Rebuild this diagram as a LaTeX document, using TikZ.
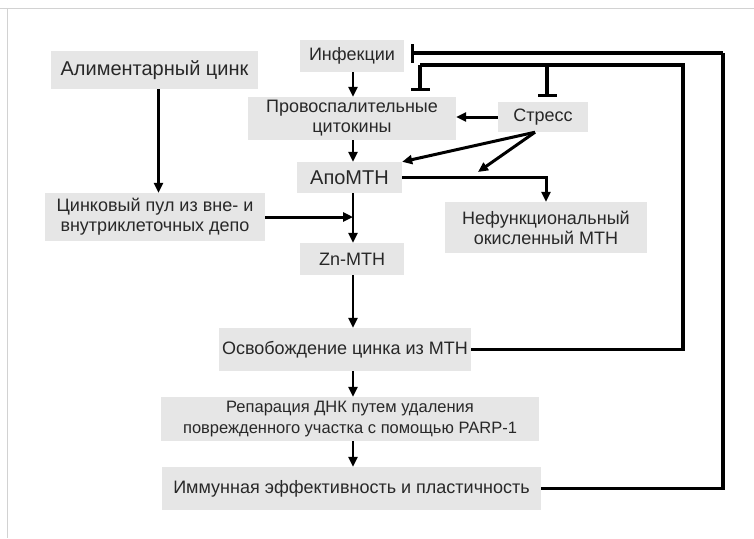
\documentclass[tikz,border=0pt]{standalone}
\usepackage{fontspec}
\setmainfont{Liberation Sans}
\usetikzlibrary{arrows.meta}

\definecolor{boxgray}{RGB}{230,230,230}
\definecolor{txtgray}{RGB}{40,40,40}
\definecolor{framegray}{RGB}{210,210,210}

\tikzset{
  stage/.style={fill=boxgray, text=txtgray, align=center, inner sep=0pt,
    font=\fontsize{18}{20}\selectfont},
  arr/.style={line width=2.5pt, -{Triangle[length=10pt,width=9pt]}},
  fb/.style={line width=3.2pt},
  inh/.style={line width=3.2pt, -{Bar[width=19pt]}}
}

\begin{document}
\begin{tikzpicture}[x=1pt,y=-1pt]
\useasboundingbox (0,0) rectangle (754,538);
\draw[framegray, line width=1pt] (0,8) -- (754,8);
\draw[framegray, line width=1pt] (7,8) -- (7,538);

% boxes
\node[stage, minimum width=104, minimum height=32] (inf) at (352,56) {Инфекции};
\node[stage, minimum width=207, minimum height=38, font=\fontsize{20}{22}\selectfont] (alim) at (154.5,70) {Алиментарный цинк};
\node[stage, minimum width=208, minimum height=43] (prov) at (352,118.5) {Провоспалительные\\цитокины};
\node[stage, minimum width=90, minimum height=30] (stress) at (543,117) {Стресс};
\node[stage, minimum width=105, minimum height=31, font=\fontsize{20}{22}\selectfont] (apo) at (349.5,177.5) {АпоМТН};
\node[stage, minimum width=220, minimum height=48] (pool) at (155,217) {Цинковый пул из вне- и\\внутриклеточных депо};
\node[stage, minimum width=202, minimum height=51] (nefun) at (546,227.5) {Нефункциональный\\окисленный МТН};
\node[stage, minimum width=104, minimum height=32] (znmt) at (352,259) {Zn-МТН};
\node[stage, minimum width=252, minimum height=43] (osv) at (345,349.5) {Освобождение цинка из МТН};
\node[stage, minimum width=378, minimum height=44, font=\fontsize{16.5}{21}\selectfont] (rep) at (350,419) {Репарация ДНК путем удаления\\поврежденного участка с помощью PARP-1};
\node[stage, minimum width=379, minimum height=43] (imm) at (351.5,488.5) {Иммунная эффективность и пластичность};

\coordinate (spine) at (353,0);
\coordinate (oxid) at (478,172);
\coordinate (rin) at (683,65);
\coordinate (rout) at (723,53);
\coordinate (cy) at (420,65);
\coordinate (sy) at (547,65);

% main chain
\draw[arr] (inf.south -| spine) -- (prov.north -| spine);
\draw[arr] (prov.south -| spine) -- (apo.north -| spine);
\draw[arr] (apo.south -| spine) -- (znmt.north -| spine);
\draw[arr] (znmt.south -| spine) -- (osv.north -| spine);
\draw[arr] (osv.south -| spine) -- (rep.north -| spine);
\draw[arr] (rep.south -| spine) -- (imm.north -| spine);

\draw[arr] ([xshift=4pt]alim.south) -- ([xshift=4pt]alim.south |- pool.north);
\draw[arr, line width=3pt] (pool.east) -- (pool.east -| spine);
\draw[arr, line width=3pt] (stress.west) -- (stress.west -| prov.east);
\draw[arr, line width=3pt] ([xshift=-8pt]stress.south) -- (apo.north east);
\draw[arr, line width=3pt] ([xshift=-8pt]stress.south) -- (oxid);
\draw[arr, line width=3pt] (apo.east) -| (nefun.north);

% feedback
\draw[fb] (osv.east) -| (rin) -- (cy);
\draw[inh, shorten >=6pt] (cy) -- (cy |- prov.north);
\draw[inh, shorten >=5pt] (sy) -- (sy |- stress.north);
\draw[fb] (imm.east) -| (rout);
\draw[inh, shorten >=7pt] (rout) -- (rout -| inf.east);
\end{tikzpicture}
\end{document}
